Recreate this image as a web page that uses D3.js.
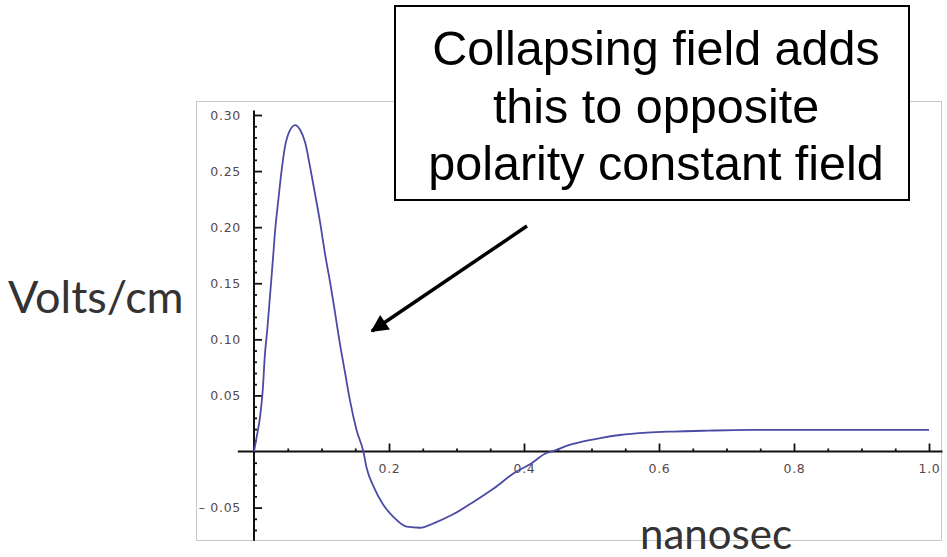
<!DOCTYPE html>
<html>
<head>
<meta charset="utf-8">
<script src="https://cdn.jsdelivr.net/npm/d3@7"></script>
<style>
  body { margin: 0; background: #fff; }
  svg { display: block; }
</style>
</head>
<body>
<svg id="chart"></svg>
<script>
const WIDTH = 947;
const HEIGHT = 557;

// curve (nanosec, volts/cm)
const timeNs = [0, 0.004, 0.009, 0.013, 0.016, 0.020, 0.024, 0.028, 0.031, 0.036, 0.041, 0.046, 0.053, 0.061,
  0.068, 0.076, 0.083, 0.090, 0.098, 0.105, 0.113, 0.120, 0.127, 0.135, 0.142, 0.152, 0.162,
  0.167, 0.177, 0.191, 0.206, 0.226, 0.246, 0.266, 0.295, 0.325, 0.355, 0.386, 0.410, 0.431,
  0.446, 0.463, 0.488, 0.513, 0.542, 0.582, 0.620, 0.673, 0.735, 0.85, 1.0];
const voltsCm = [0, 0.013, 0.031, 0.055, 0.085, 0.111, 0.141, 0.171, 0.195, 0.224, 0.251, 0.272, 0.286, 0.291,
  0.287, 0.275, 0.254, 0.231, 0.204, 0.177, 0.150, 0.124, 0.097, 0.070, 0.046, 0.019, 0,
  -0.015, -0.031, -0.047, -0.058, -0.067, -0.068, -0.064, -0.056, -0.045, -0.033, -0.019, -0.011, -0.002,
  0.001, 0.005, 0.009, 0.012, 0.0147, 0.0168, 0.0178, 0.0186, 0.0192, 0.0193, 0.0193];

const xMajor = [0.2, 0.4, 0.6, 0.8, 1.0];
const yMajor = [-0.05, 0.05, 0.10, 0.15, 0.20, 0.25, 0.30];
const yLabels = ["\u2013 0.05", "0.05", "0.10", "0.15", "0.20", "0.25", "0.30"];
const xLabels = ["0.2", "0.4", "0.6", "0.8", "1.0"];

const calloutLines = ["Collapsing field adds", "this to opposite", "polarity constant field"];
const yTitle = "Volts/cm";
const xTitle = "nanosec";

const svg = d3.select("#chart")
  .attr("width", WIDTH)
  .attr("height", HEIGHT);

const x = d3.scaleLinear().domain([0, 1]).range([254, 929]);
const y = d3.scaleLinear().domain([0, 0.3]).range([451.5, 115]);

// grey frame of the pasted plot
svg.append("rect")
  .attr("x", 196.5).attr("y", 101.5)
  .attr("width", 745).attr("height", 439)
  .attr("fill", "none")
  .attr("stroke", "#c8c8c8")
  .attr("stroke-width", 1);

// minor ticks
const xMinor = d3.range(1, 21).map(i => i * 0.05).filter(v => Math.abs(v * 5 - Math.round(v * 5)) > 1e-6);
const yMinor = d3.range(-7, 31).map(i => i * 0.01).filter(v => Math.abs(v * 20 - Math.round(v * 20)) > 1e-6 && Math.abs(v) > 1e-6);

const gx = svg.append("g").attr("transform", `translate(0,${y(0)})`);
gx.call(d3.axisBottom(x).tickValues(xMinor).tickSize(-3).tickFormat(""));
gx.select(".domain").remove();
const gx2 = svg.append("g").attr("transform", `translate(0,${y(0)})`);
gx2.call(d3.axisBottom(x).tickValues(xMajor).tickSize(-8).tickPadding(13)
  .tickFormat((d, i) => xLabels[i]));
gx2.select(".domain").remove();

const gy = svg.append("g").attr("transform", `translate(${x(0)},0)`);
gy.call(d3.axisLeft(y).tickValues(yMinor).tickSize(-3).tickFormat(""));
gy.select(".domain").remove();
const gy2 = svg.append("g").attr("transform", `translate(${x(0)},0)`);
gy2.call(d3.axisLeft(y).tickValues(yMajor).tickSize(-8).tickPadding(13)
  .tickFormat((d, i) => yLabels[i]));
gy2.select(".domain").remove();

svg.selectAll(".tick line").attr("stroke", "#111").attr("stroke-width", 1.8);
svg.selectAll(".tick text")
  .attr("font-family", "DejaVu Sans, Verdana, sans-serif")
  .attr("font-size", 12.5)
  .attr("letter-spacing", 0.7)
  .attr("fill", "#5a4848");

// axis lines
svg.append("line")
  .attr("x1", x(-0.024)).attr("x2", x(1.02))
  .attr("y1", y(0)).attr("y2", y(0))
  .attr("stroke", "#111").attr("stroke-width", 2);
svg.append("line")
  .attr("x1", x(0)).attr("x2", x(0))
  .attr("y1", y(0.304)).attr("y2", y(-0.0795))
  .attr("stroke", "#111").attr("stroke-width", 2);

// the curve
const pts = timeNs.map((t, i) => [t, voltsCm[i]]);
svg.append("path")
  .datum(pts)
  .attr("fill", "none")
  .attr("stroke", "#4b4ba6")
  .attr("stroke-width", 1.8)
  .attr("d", d3.line().x(d => x(d[0])).y(d => y(d[1])).curve(d3.curveMonotoneX));

// callout box
svg.append("rect")
  .attr("x", 395).attr("y", 6)
  .attr("width", 514).attr("height", 194)
  .attr("fill", "#fff")
  .attr("stroke", "#000")
  .attr("stroke-width", 2);

svg.append("g").selectAll("text")
  .data(calloutLines)
  .join("text")
  .attr("x", 656)
  .attr("y", (d, i) => 65 + i * 57.5)
  .attr("text-anchor", "middle")
  .attr("font-family", "Liberation Sans, Arial, sans-serif")
  .attr("font-size", 48.5)
  .attr("fill", "#000")
  .text(d => d);

// arrow
svg.append("defs").append("marker")
  .attr("id", "head")
  .attr("viewBox", "0 0 10 10")
  .attr("refX", 9).attr("refY", 5)
  .attr("markerWidth", 6).attr("markerHeight", 5)
  .attr("markerUnits", "strokeWidth")
  .attr("orient", "auto")
  .append("path")
  .attr("d", "M0,0L10,5L0,10z")
  .attr("fill", "#000");

svg.append("line")
  .attr("x1", 527).attr("y1", 226)
  .attr("x2", 372).attr("y2", 331)
  .attr("stroke", "#000")
  .attr("stroke-width", 3.5)
  .attr("marker-end", "url(#head)");

// axis titles
svg.append("text")
  .attr("x", 8).attr("y", 313)
  .attr("font-family", "Lato, Open Sans, sans-serif")
  .attr("font-size", 45)
  .attr("fill", "#333")
  .text(yTitle);

svg.append("text")
  .attr("x", 640).attr("y", 549)
  .attr("font-family", "Lato, Open Sans, sans-serif")
  .attr("font-size", 42)
  .attr("fill", "#333")
  .text(xTitle);
</script>
</body>
</html>
